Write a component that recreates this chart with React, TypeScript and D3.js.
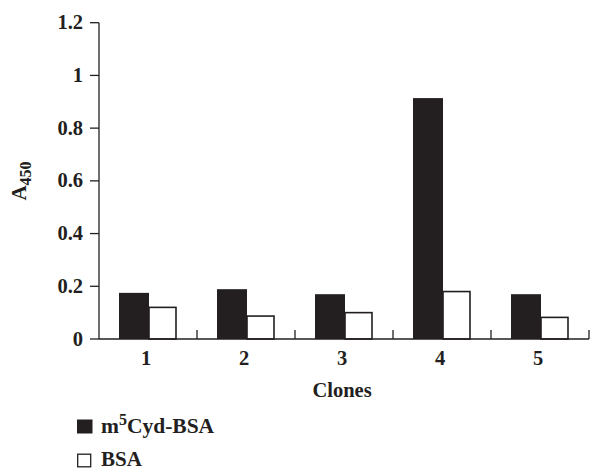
import React from 'react';
import * as d3 from 'd3';

const clones = ['1', '2', '3', '4', '5'];
const series = ['m5Cyd-BSA', 'BSA'];
const m5CydBSA = [0.175, 0.189, 0.17, 0.914, 0.17];
const bsa = [0.12, 0.087, 0.1, 0.18, 0.082];
const yTicks = [0, 0.2, 0.4, 0.6, 0.8, 1, 1.2];

const ink = '#231f20';
const font = '"Liberation Serif", "Times New Roman", serif';

const xScale = d3.scaleBand<string>().domain(clones).range([99, 589]);
const inner = d3.scaleBand<string>()
  .domain(series)
  .range([0, xScale.bandwidth()])
  .paddingOuter(0.69);
const yScale = d3.scaleLinear().domain([0, 1.2]).range([339, 22.7]);

export default function App() {
  const y0 = yScale(0);
  return (
    <div style={{ position: 'absolute', left: 0, top: 0 }}>
      <svg width={590} height={471} style={{ display: 'block' }} fontFamily={font} fontWeight="bold">
        {/* bars */}
        {clones.map((c, i) => (
          <g key={c} transform={`translate(${xScale(c)},0)`}>
            <rect
              x={inner('m5Cyd-BSA')}
              y={yScale(m5CydBSA[i])}
              width={inner.bandwidth() + 1}
              height={y0 - yScale(m5CydBSA[i])}
              fill={ink}
            />
            <rect
              x={(inner('BSA') as number) + 1}
              y={yScale(bsa[i])}
              width={inner.bandwidth() - 2}
              height={y0 - yScale(bsa[i])}
              fill="#fff"
              stroke={ink}
              strokeWidth={1.6}
            />
          </g>
        ))}

        {/* y axis */}
        <line x1={99} x2={99} y1={yScale(1.2)} y2={y0} stroke={ink} strokeWidth={1.3} />
        {yTicks.map((t) => (
          <g key={t}>
            <line x1={90} x2={99} y1={yScale(t)} y2={yScale(t)} stroke={ink} strokeWidth={1.3} />
            <text x={83} y={yScale(t) + 6.5} textAnchor="end" fontSize={20.5} fill={ink}>
              {String(+t.toFixed(1))}
            </text>
          </g>
        ))}

        {/* x axis */}
        <line x1={99} x2={589} y1={y0} y2={y0} stroke={ink} strokeWidth={1.3} />
        {clones.map((c) => (
          <g key={c}>
            <line
              x1={(xScale(c) as number) + xScale.bandwidth()}
              x2={(xScale(c) as number) + xScale.bandwidth()}
              y1={y0}
              y2={y0 - 9}
              stroke={ink}
              strokeWidth={1.3}
            />
            <text
              x={(xScale(c) as number) + xScale.bandwidth() / 2 - 2}
              y={365}
              textAnchor="middle"
              fontSize={20.5}
              fill={ink}
            >
              {c}
            </text>
          </g>
        ))}
        <text x={342} y={397} textAnchor="middle" fontSize={20.5} fill={ink}>Clones</text>

        {/* y label */}
        <text transform="translate(26,181) rotate(-90)" textAnchor="middle" fontSize={21} fill={ink}>
          A<tspan fontSize={16} dy={5}>450</tspan>
        </text>

        {/* legend */}
        <rect x={77} y={419.5} width={15.5} height={14} fill={ink} />
        <text x={101} y={433} fontSize={21.5} fill={ink}>
          m<tspan fontSize={16} dy={-8}>5</tspan><tspan dy={8}>Cyd-BSA</tspan>
        </text>
        <rect x={77.7} y={454.2} width={13} height={12.6} fill="#fff" stroke={ink} strokeWidth={1.3} />
        <text x={101} y={465.5} fontSize={21} fill={ink}>BSA</text>
      </svg>
    </div>
  );
}
